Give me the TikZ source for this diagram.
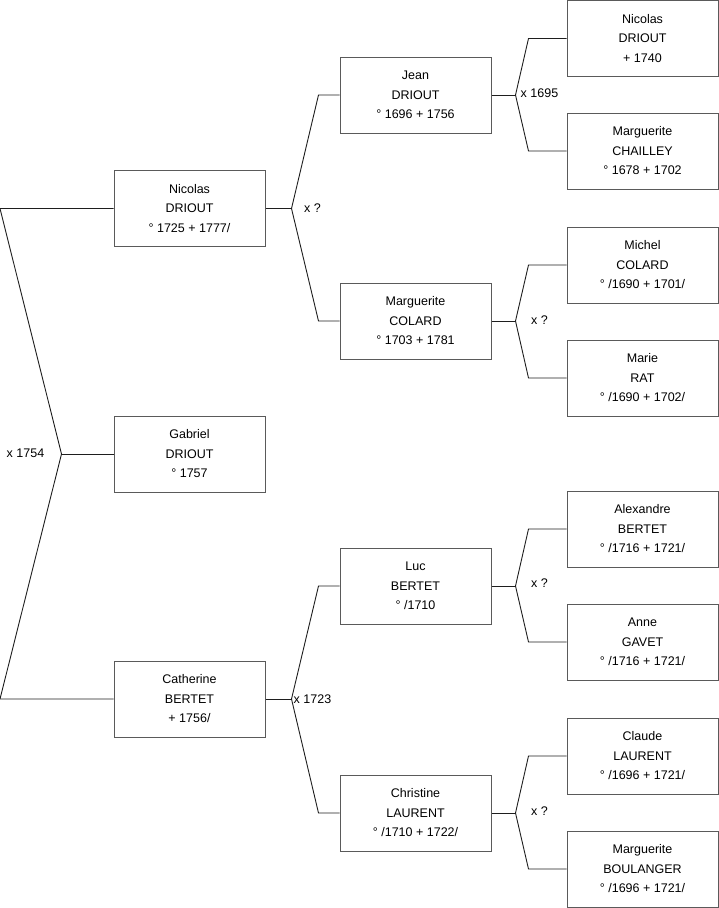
\documentclass[tikz,border=0pt]{standalone}
\usepackage{fontspec}
\setmainfont{Liberation Sans}
\usetikzlibrary{positioning, calc}
\definecolor{boxGray}{HTML}{5A5A5A}
\definecolor{linkBlack}{HTML}{1E1E1E}

\tikzset{
  person/.style={draw=boxGray, line width=1pt, minimum width=151pt, minimum height=76pt,
                 inner sep=0pt, align=center, font=\fontsize{12.5}{19.5}\selectfont},
  link/.style={draw=linkBlack, line width=0.9pt},
  union/.style={inner sep=0pt, font=\fontsize{12.5}{15}\selectfont},
}

\begin{document}
\begin{tikzpicture}[x=1pt, y=-1pt]
\useasboundingbox (0,0) rectangle (719,908);

% first column
\node[person] (nicolas) at (189.5,208.5) {Nicolas\\DRIOUT\\° 1725 + 1777/};
\node[person] (gabriel) at (189.5,454) {Gabriel\\DRIOUT\\° 1757};
\node[person] (catherine) at (189.5,699) {Catherine\\BERTET\\+ 1756/};

% parents
\node[person] (jean) at (415.5,95) {Jean\\DRIOUT\\° 1696 + 1756};
\node[person] (mcolard) at (415.5,321) {Marguerite\\COLARD\\° 1703 + 1781};
\node[person] (luc) at (415.5,586) {Luc\\BERTET\\° /1710};
\node[person] (christine) at (415.5,813) {Christine\\LAURENT\\° /1710 + 1722/};

% grandparents
\node[person] (nicolasg) at (642.5,38.5) {Nicolas\\DRIOUT\\+ 1740};
\node[person] (chailley) at (642.5,151) {Marguerite\\CHAILLEY\\° 1678 + 1702};
\node[person] (michel) at (642.5,265) {Michel\\COLARD\\° /1690 + 1701/};
\node[person] (marie) at (642.5,378) {Marie\\RAT\\° /1690 + 1702/};
\node[person] (alexandre) at (642.5,529) {Alexandre\\BERTET\\° /1716 + 1721/};
\node[person] (anne) at (642.5,642) {Anne\\GAVET\\° /1716 + 1721/};
\node[person] (claude) at (642.5,756) {Claude\\LAURENT\\° /1696 + 1721/};
\node[person] (boulanger) at (642.5,869) {Marguerite\\BOULANGER\\° /1696 + 1721/};

% marriage of Gabriel's parents
\coordinate (topEnd) at (0,208.5);
\coordinate (botEnd) at (0,699);
\coordinate (uGabriel) at ($(gabriel.west)+(-52,0)$);
\draw[link] (nicolas.west) -- (topEnd) -- (uGabriel) -- (botEnd) -- (catherine.west);
\draw[link] (uGabriel) -- (gabriel.west);
\node[union] at ($(uGabriel)+(-36,-1)$) {x 1754};

% second column unions
\coordinate (uNicolas) at ($(nicolas.east)+(26,0)$);
\draw[link] (jean.west) -- ($(jean.west)+(-21,0)$) -- (uNicolas) -- ($(mcolard.west)+(-21,0)$) -- (mcolard.west);
\draw[link] (nicolas.east) -- (uNicolas);
\node[union] at ($(uNicolas)+(21,0)$) {x ?};

\coordinate (uCatherine) at ($(catherine.east)+(26,0)$);
\draw[link] (luc.west) -- ($(luc.west)+(-21,0)$) -- (uCatherine) -- ($(christine.west)+(-21,0)$) -- (christine.west);
\draw[link] (catherine.east) -- (uCatherine);
\node[union] at ($(uCatherine)+(21,0)$) {x 1723};

% third column unions
\coordinate (uJean) at ($(jean.east)+(24,0)$);
\draw[link] (nicolasg.west) -- ($(nicolasg.west)+(-38,0)$) -- (uJean) -- ($(chailley.west)+(-38,0)$) -- (chailley.west);
\draw[link] (jean.east) -- (uJean);
\node[union] at ($(uJean)+(24,-2)$) {x 1695};

\coordinate (uMcolard) at ($(mcolard.east)+(24,0)$);
\draw[link] (michel.west) -- ($(michel.west)+(-38,0)$) -- (uMcolard) -- ($(marie.west)+(-38,0)$) -- (marie.west);
\draw[link] (mcolard.east) -- (uMcolard);
\node[union] at ($(uMcolard)+(24,-1)$) {x ?};

\coordinate (uLuc) at ($(luc.east)+(24,0)$);
\draw[link] (alexandre.west) -- ($(alexandre.west)+(-38,0)$) -- (uLuc) -- ($(anne.west)+(-38,0)$) -- (anne.west);
\draw[link] (luc.east) -- (uLuc);
\node[union] at ($(uLuc)+(24,-3)$) {x ?};

\coordinate (uChristine) at ($(christine.east)+(24,0)$);
\draw[link] (claude.west) -- ($(claude.west)+(-38,0)$) -- (uChristine) -- ($(boulanger.west)+(-38,0)$) -- (boulanger.west);
\draw[link] (christine.east) -- (uChristine);
\node[union] at ($(uChristine)+(24,-2)$) {x ?};
\end{tikzpicture}
\end{document}
